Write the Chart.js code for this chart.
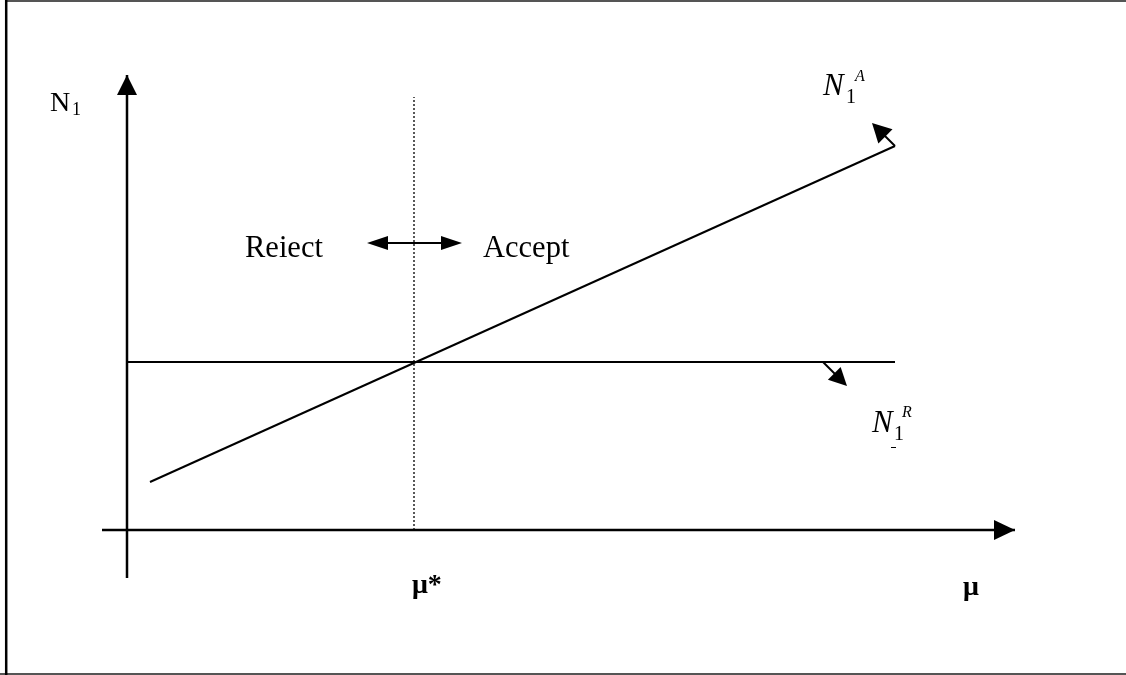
<!DOCTYPE html>
<html>
<head>
<meta charset="utf-8">
<script src="https://cdn.jsdelivr.net/npm/chart.js@4.4.1/dist/chart.umd.min.js"></script>
<style>
  html, body { margin: 0; padding: 0; background: #fff; }
  #wrap { width: 1126px; height: 675px; }
</style>
</head>
<body>
<div id="wrap"><canvas id="diagram" width="1126" height="675"></canvas></div>
<script>
// axis extents (arrow tips), diagram units
const muAxis = [-0.25, 8.88];
const n1Axis = [-0.48, 4.55];
const muStar = 2.87;
// N1^A : accept curve, rising with mu
const acceptMu = [0.23, 7.68];
const acceptN1 = [0.48, 3.84];
// N1^R : reject level, flat
const rejectMu = [0, 7.68];
const rejectN1 = [1.68, 1.68];
// dotted divider at mu*
const dividerN1 = [0, 4.33];

const pts = (xs, ys) => xs.map((x, i) => ({ x: x, y: ys[i] }));

const SERIF = '"Liberation Serif", "Times New Roman", serif';

function head(ctx, tx, ty, fx, fy, len, half) {
  const a = Math.atan2(ty - fy, tx - fx);
  const bx = tx - len * Math.cos(a), by = ty - len * Math.sin(a);
  ctx.beginPath();
  ctx.moveTo(tx, ty);
  ctx.lineTo(bx + half * Math.sin(a), by - half * Math.cos(a));
  ctx.lineTo(bx - half * Math.sin(a), by + half * Math.cos(a));
  ctx.closePath();
  ctx.fill();
}

const decor = {
  id: 'decor',
  beforeDraw(chart) {
    const ctx = chart.ctx, w = chart.width, h = chart.height;
    ctx.save();
    ctx.fillStyle = '#fff';
    ctx.fillRect(0, 0, w, h);
    ctx.strokeStyle = '#555';
    ctx.lineWidth = 2;
    ctx.beginPath();
    ctx.moveTo(5, 1); ctx.lineTo(w, 1);
    ctx.moveTo(0, 674); ctx.lineTo(w, 674);
    ctx.stroke();
    ctx.strokeStyle = '#000';
    ctx.lineWidth = 2.5;
    ctx.beginPath();
    ctx.moveTo(6.2, 0); ctx.lineTo(6.2, h);
    ctx.stroke();
    ctx.restore();
  },
  afterDatasetsDraw(chart) {
    const ctx = chart.ctx;
    const X = v => chart.scales.x.getPixelForValue(v);
    const Y = v => chart.scales.y.getPixelForValue(v);
    ctx.save();
    ctx.fillStyle = '#000';
    ctx.strokeStyle = '#000';

    // axis arrowheads
    head(ctx, X(0), Y(n1Axis[1]), X(0), Y(0), 20, 10);
    head(ctx, X(muAxis[1]), Y(0), X(0), Y(0), 21, 10);

    // reject <-> accept double arrow
    ctx.lineWidth = 2;
    ctx.beginPath();
    ctx.moveTo(X(2.45), Y(2.87)); ctx.lineTo(X(3.30), Y(2.87));
    ctx.stroke();
    head(ctx, X(2.40), Y(2.87), X(3.0), Y(2.87), 21, 7);
    head(ctx, X(3.35), Y(2.87), X(2.8), Y(2.87), 21, 7);

    // pointer to N1^A
    const a0x = X(acceptMu[1]), a0y = Y(acceptN1[1]);
    const a1x = X(7.45), a1y = Y(4.07);
    ctx.beginPath();
    ctx.moveTo(a0x, a0y); ctx.lineTo(a1x + 8, a1y + 8);
    ctx.stroke();
    head(ctx, a1x, a1y, a0x, a0y, 19, 10);

    // pointer to N1^R
    const r0x = X(6.96), r0y = Y(rejectN1[0]);
    const r1x = X(7.20), r1y = Y(1.44);
    ctx.beginPath();
    ctx.moveTo(r0x, r0y); ctx.lineTo(r1x - 8, r1y - 8);
    ctx.stroke();
    head(ctx, r1x, r1y, r0x, r0y, 18, 9);

    // text
    ctx.textBaseline = 'alphabetic';
    ctx.textAlign = 'left';
    ctx.font = '28px ' + SERIF;
    ctx.fillText('N', X(-0.77), Y(4.19));
    ctx.font = '18px ' + SERIF;
    ctx.fillText('1', X(-0.55), Y(4.15));

    ctx.font = '30.5px ' + SERIF;
    ctx.fillText('Reiect', X(1.18), Y(2.73));
    ctx.fillText('Accept', X(3.56), Y(2.73));

    ctx.font = 'italic 31px ' + SERIF;
    ctx.fillText('N', X(6.96), Y(4.35));
    ctx.font = '20px ' + SERIF;
    ctx.fillText('1', X(7.19), Y(4.27));
    ctx.font = 'italic 16px ' + SERIF;
    ctx.fillText('A', X(7.28), Y(4.49));

    ctx.font = 'italic 31px ' + SERIF;
    ctx.fillText('N', X(7.45), Y(0.98));
    ctx.font = '20px ' + SERIF;
    ctx.fillText('1', X(7.67), Y(0.90));
    ctx.font = 'italic 16px ' + SERIF;
    ctx.fillText('R', X(7.75), Y(1.13));
    ctx.fillRect(X(7.64), Y(0.83), 5, 1);

    ctx.font = 'bold 28px ' + SERIF;
    ctx.fillText('\u03bc*', X(muStar - 0.02), Y(-0.63));
    ctx.fillText('\u03bc', X(8.36), Y(-0.65));
    ctx.restore();
  }
};

new Chart(document.getElementById('diagram'), {
  type: 'scatter',
  data: {
    datasets: [
      { data: pts(muAxis, [0, 0]), borderColor: '#000', borderWidth: 2.5 },
      { data: pts([0, 0], n1Axis), borderColor: '#000', borderWidth: 2.5 },
      { data: pts(acceptMu, acceptN1), borderColor: '#000', borderWidth: 2 },
      { data: pts(rejectMu, rejectN1), borderColor: '#000', borderWidth: 2 },
      { data: pts([muStar, muStar], dividerN1), borderColor: '#222', borderWidth: 1.5, borderDash: [2, 2] }
    ]
  },
  options: {
    responsive: false,
    animation: false,
    devicePixelRatio: 1,
    showLine: true,
    layout: { padding: 0 },
    elements: { point: { radius: 0, hoverRadius: 0 }, line: { tension: 0, fill: false } },
    plugins: { legend: { display: false }, tooltip: { enabled: false } },
    scales: {
      x: { type: 'linear', min: -1.27, max: 9.99, display: false },
      y: { type: 'linear', min: -1.45, max: 5.30, display: false }
    }
  },
  plugins: [decor]
});
</script>
</body>
</html>
